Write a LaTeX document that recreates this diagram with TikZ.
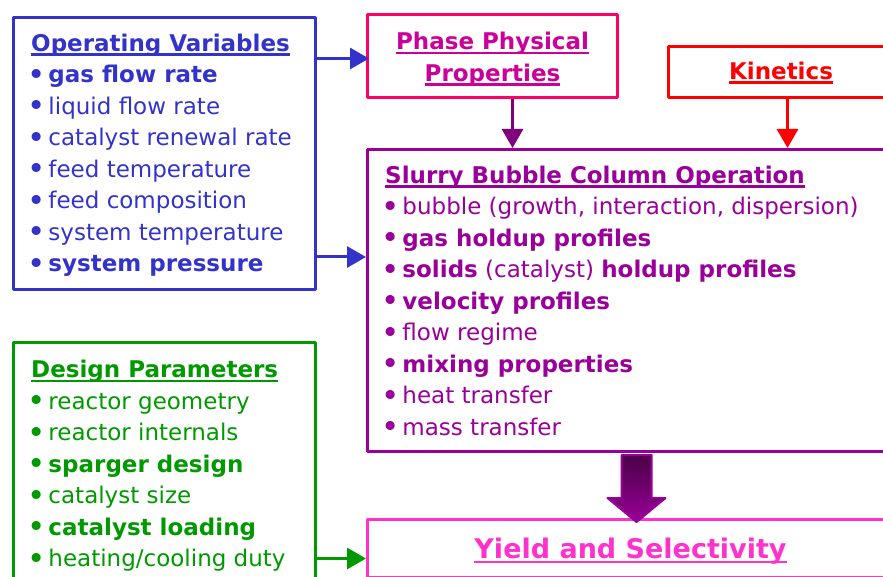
\documentclass[tikz,border=0pt]{standalone}
\usepackage{fontspec}
\setmainfont{DejaVu Sans}
\usetikzlibrary{arrows.meta}

\definecolor{opblue}{HTML}{3333CC}
\definecolor{physpink}{HTML}{FF0066}
\definecolor{phystext}{HTML}{CC0099}
\definecolor{kinred}{HTML}{FF0000}
\definecolor{sbcpurple}{HTML}{990099}
\definecolor{sbcarrow}{HTML}{800080}
\definecolor{sbcdark}{HTML}{4A0046}
\definecolor{desgreen}{HTML}{009900}
\definecolor{yieldpink}{HTML}{FF33CC}

% heavy underline just under the baseline
\newcommand{\underlined}[1]{\setbox0\hbox{#1}\rlap{\rule[-4.6pt]{\wd0}{2.6pt}}\box0}
% big list bullet
\newcommand{\bul}{\hspace{-3.5pt}\raisebox{-2.5pt}{\fontsize{31}{31}\selectfont •}\hspace{2.5pt}}

\begin{document}
\begin{tikzpicture}[x=1pt, y=-1pt,
    every node/.style={font=\fontsize{23}{31.5}\selectfont},
    box/.style={draw=#1, line width=3pt, line join=round, rectangle, inner sep=0pt, anchor=north west},
    list/.style={text=#1, anchor=north west, align=left, inner sep=0pt},
    link/.style={draw=#1, line width=3pt, -{Triangle[length=19pt, width=21pt]}}]
\useasboundingbox (0,0) rectangle (883,577);
\clip (0,0) rectangle (883,577);

% input boxes
\node[box=opblue, minimum width=302, minimum height=272] (opvar) at (12,16) {};
\node[list=opblue] (opvartext) at ([shift={(19pt,-17.5pt)}]opvar.north west) {%
\textbf{\underlined{Operating Variables}}\\
\bul\textbf{gas flow rate}\\
\bul liquid flow rate\\
\bul catalyst renewal rate\\
\bul feed temperature\\
\bul feed composition\\
\bul system temperature\\
\bul\textbf{system pressure}};

\node[box=desgreen, minimum width=302, minimum height=243] (desparam) at (12,341) {};
\node[list=desgreen] (desparamtext) at ([shift={(19pt,-19pt)}]desparam.north west) {%
\textbf{\underlined{Design Parameters}}\\
\bul reactor geometry\\
\bul reactor internals\\
\bul\textbf{sparger design}\\
\bul catalyst size\\
\bul\textbf{catalyst loading}\\
\bul heating/cooling duty};

\node[box=physpink, text=phystext, align=center, minimum width=250, minimum height=83] (phase) at (366,13)
  {\rule{0pt}{24pt}\textbf{\underlined{Phase Physical}}\\\textbf{\underlined{Properties}}};
\node[box=kinred, text=kinred, minimum width=225, minimum height=51, text height=21pt, text depth=6pt] (kin) at (667,45)
  {\textbf{\underlined{Kinetics}}};

% column operation
\node[box=sbcpurple, minimum width=526, minimum height=302] (sbc) at (366,148) {};
\node[list=sbcpurple] (sbctext) at ([shift={(19pt,-17.5pt)}]sbc.north west) {%
\textbf{\underlined{Slurry Bubble Column Operation}}\\
\bul bubble (growth, interaction, dispersion)\\
\bul\textbf{gas holdup profiles}\\
\bul\textbf{solids} (catalyst) \textbf{holdup profiles}\\
\bul\textbf{velocity profiles}\\
\bul flow regime\\
\bul\textbf{mixing properties}\\
\bul heat transfer\\
\bul mass transfer};

\node[box=yieldpink, text=yieldpink, font=\fontsize{27}{32}\selectfont, minimum width=526, minimum height=58, text height=26pt, text depth=6pt] (yield) at (366,518)
  {\textbf{\underlined{Yield and Selectivity}}};

% connectors
\coordinate (opv2) at ([yshift=34pt]opvar.south east);
\coordinate (des2) at ([yshift=-10pt]yield.west);
\draw[link=opblue] (opvar.east |- phase.west) ++(0pt,-2.5pt) -- ++(52pt,0pt);
\draw[link=opblue] (opv2) -- (opv2 -| sbc.west);
\draw[link=sbcarrow] ([xshift=20pt]phase.south) -- ([xshift=20pt]phase.south |- sbc.north);
\draw[link=kinred] ([xshift=6.5pt]kin.south) -- ([xshift=6.5pt]kin.south |- sbc.north);
\draw[link=desgreen] (des2 -| desparam.east) -- (des2);

% block arrow down to the yield box
\shade[top color=sbcdark, bottom color=sbcpurple, draw=sbcpurple, line width=2pt, line join=round]
  ([xshift=-9pt,yshift=-2pt]sbc.south) -- ++(30pt,0pt) -- ++(0pt,-43pt) -- ++(14pt,0pt)
  -- ++(-29pt,-24pt) -- ++(-29pt,24pt) -- ++(14pt,0pt) -- cycle;
\end{tikzpicture}
\end{document}
